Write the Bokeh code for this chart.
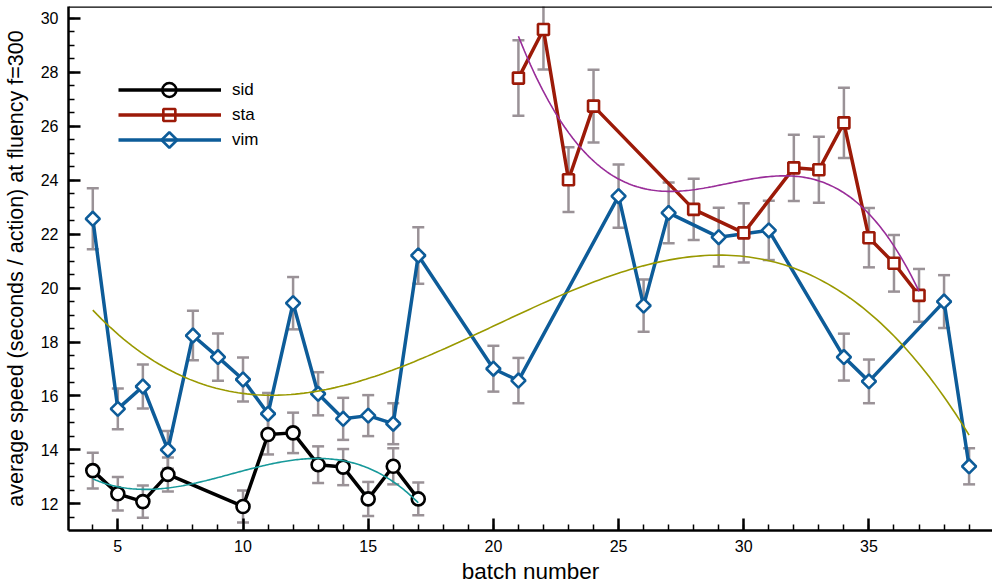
import numpy as np
from bokeh.plotting import figure
from bokeh.models import (ColumnDataSource, Whisker, TeeHead, Legend, LegendItem,
                          SingleIntervalTicker, Span, Range1d)
from bokeh.embed import file_html
from bokeh.resources import INLINE

# ---- data ----
sid_x = [4, 5, 6, 7, 10, 11, 12, 13, 14, 15, 16, 17]
sid_y = [13.23, 12.37, 12.08, 13.09, 11.90, 14.57, 14.63, 13.45, 13.36, 12.18, 13.39, 12.18]
sid_e = [0.66, 0.62, 0.60, 0.63, 0.59, 0.74, 0.75, 0.68, 0.67, 0.63, 0.67, 0.61]

sta_x = [21, 22, 23, 24, 28, 30, 32, 33, 34, 35, 36, 37]
sta_y = [27.79, 29.59, 24.02, 26.75, 22.92, 22.05, 24.46, 24.39, 26.13, 21.87, 20.92, 19.73]
sta_e = [1.40, 1.48, 1.20, 1.35, 1.14, 1.10, 1.23, 1.22, 1.30, 1.10, 1.05, 0.98]

vim_x = [4, 5, 6, 7, 8, 9, 10, 11, 12, 13, 14, 15, 16, 17, 20, 21, 25, 26, 27, 29, 31, 34, 35, 38, 39]
vim_y = [22.57, 15.52, 16.35, 14.00, 18.24, 17.44, 16.61, 15.34, 19.44, 16.08, 15.15, 15.27, 14.97,
         21.21, 17.01, 16.57, 23.41, 19.35, 22.79, 21.89, 22.14, 17.44, 16.54, 19.50, 13.39]
vim_e = [1.13, 0.76, 0.82, 0.70, 0.92, 0.88, 0.82, 0.77, 0.97, 0.80, 0.78, 0.76, 0.76,
         1.05, 0.85, 0.84, 1.17, 0.97, 1.13, 1.09, 1.10, 0.87, 0.81, 0.98, 0.67]

legend_labels = ["sid", "sta", "vim"]

FONT = "Liberation Sans"
ERR = "#9a9297"

# layout constants (pixels)
W, H = 992, 586
BL, BR, BT, BB = 62, 0, 6, 56
FW, FH = W - BL - BR, H - BT - BB
X0 = 3.03
X1 = X0 + FW / 25.2
Y1 = 30.445
Y0 = Y1 - FH / 26.96

p = figure(width=W, height=H, output_backend="svg", toolbar_location=None,
           x_range=Range1d(X0, X1), y_range=Range1d(Y0, Y1),
           min_border_left=BL, min_border_right=BR, min_border_top=BT, min_border_bottom=BB)
p.outline_line_color = None
p.grid.grid_line_color = None
p.background_fill_color = "white"

for ax, tick in ((p.xaxis[0], SingleIntervalTicker(interval=5, num_minor_ticks=5)),
                 (p.yaxis[0], SingleIntervalTicker(interval=2, num_minor_ticks=4))):
    ax.ticker = tick
    ax.axis_line_width = 2.5
    ax.major_tick_in = 12
    ax.major_tick_out = 0
    ax.minor_tick_in = 6
    ax.minor_tick_out = 0
    ax.major_tick_line_width = 2.5
    ax.minor_tick_line_width = 1.5
    ax.major_label_text_font = FONT
    ax.major_label_text_font_size = "16px"
    ax.major_label_text_color = "black"
    ax.axis_label_text_font = FONT
    ax.axis_label_text_font_style = "normal"
    ax.axis_label_text_color = "black"

p.xaxis.axis_label = "batch number"
p.yaxis.axis_label = "average speed (seconds / action) at fluency f=300"
p.xaxis.axis_label_text_font_size = "22.5px"
p.yaxis.axis_label_text_font_size = "21.5px"
p.xaxis.major_label_standoff = 9
p.yaxis.major_label_standoff = 10
p.xaxis.axis_label_standoff = 4
p.yaxis.axis_label_standoff = 10

p.add_layout(Span(location=Y1, dimension="width", line_color="black", line_width=2.5))


def add_errors(xs, ys, es):
    src = ColumnDataSource(dict(x=xs, y=ys,
                                upper=[a + b for a, b in zip(ys, es)],
                                lower=[a - b for a, b in zip(ys, es)]))
    p.add_layout(Whisker(source=src, base="x", upper="upper", lower="lower",
                         line_color=ERR, line_width=2.5,
                         upper_head=TeeHead(size=12, line_color=ERR, line_width=2.5),
                         lower_head=TeeHead(size=12, line_color=ERR, line_width=2.5)))
    return src


series = [
    ("vim", vim_x, vim_y, vim_e, "#0d5c99", "square", 10, np.pi / 4),
    ("sta", sta_x, sta_y, sta_e, "#9c1a08", "square", 11, 0.0),
    ("sid", sid_x, sid_y, sid_e, "black", "circle", 13, 0.0),
]
srcs = {s[0]: add_errors(s[1], s[2], s[3]) for s in series}

lines = {}
for name, xs, ys, es, col, mk, sz, ang in series:
    src = srcs[name]
    lines[name] = p.line("x", "y", source=src, line_color=col, line_width=3.5)
    p.scatter("x", "y", source=src, marker=mk, size=sz, angle=ang,
              fill_color="white", line_color=col, line_width=2.6)

# cubic polynomial fits of each series
fit_cols = {"sid": "#17999a", "sta": "#992d99", "vim": "#999900"}
for name, xs, ys, es, col, mk, sz, ang in series:
    c = np.polyfit(xs, ys, 3)
    fx = np.linspace(min(xs), max(xs), 200)
    p.line(fx, np.polyval(c, fx), line_color=fit_cols[name], line_width=1.6)

# legend (lines + labels), markers overlaid on the legend lines
LEG_LEFT, LEG_TOP, ROW, GW = 50, 71, 25, 103
items = [LegendItem(label=n, renderers=[lines[n]]) for n in legend_labels]
leg = Legend(items=items, location=(LEG_LEFT, FH - LEG_TOP - ROW * len(items)),
             glyph_width=GW, glyph_height=ROW, label_height=ROW, spacing=0, padding=0,
             margin=0, label_standoff=11, label_text_font=FONT, label_text_font_size="17px",
             label_text_color="black",
             border_line_color=None, background_fill_alpha=0)
p.add_layout(leg)

style = {s[0]: s for s in series}
for i, n in enumerate(legend_labels):
    _, _, _, _, col, mk, sz, ang = style[n]
    lx = X0 + (LEG_LEFT + GW / 2) * (X1 - X0) / FW
    ly = Y1 - (LEG_TOP + ROW * (i + 0.5)) * (Y1 - Y0) / FH
    p.scatter([lx], [ly], marker=mk, size=sz + 1, angle=ang, fill_color="white",
              line_color=col, line_width=2.6, level="overlay")

open("out.html", "w").write(file_html(p, INLINE))
